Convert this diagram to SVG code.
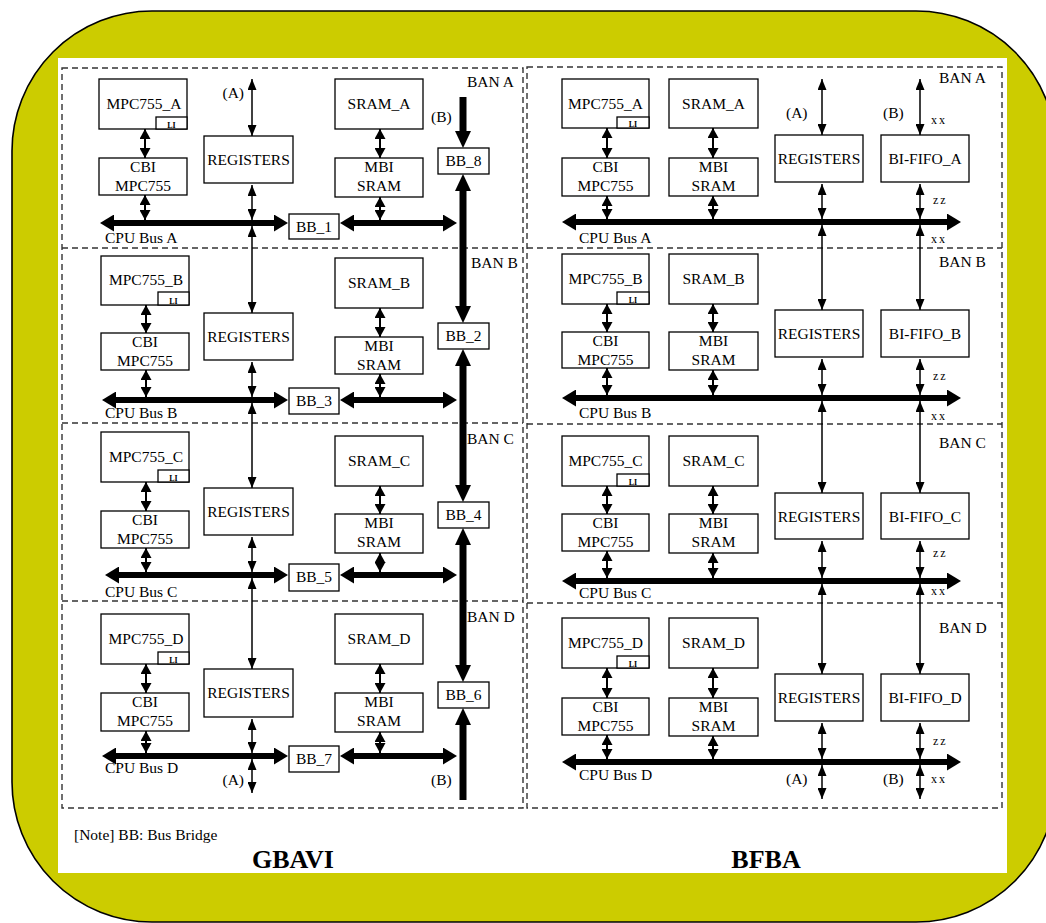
<svg xmlns="http://www.w3.org/2000/svg" width="1046" height="923" viewBox="0 0 1046 923" font-family="'Liberation Serif', 'DejaVu Serif', serif">
<defs>
<style>
.box{fill:#fff;stroke:#000;stroke-width:1.3}
.dash{fill:none;stroke:#333;stroke-width:1.4;stroke-dasharray:6,4}
text{font-family:'Liberation Serif','DejaVu Serif',serif}
.t{font-size:15.5px;text-anchor:middle;fill:#000}
.l{text-anchor:start}
.e{text-anchor:end}
.li{font-size:8px;font-weight:bold}
.x{font-size:12px;letter-spacing:2px}
.h{font-size:26px;font-weight:bold}
.d2{stroke:#000;stroke-width:1.5;marker-start:url(#a);marker-end:url(#a)}
.s2{stroke:#000;stroke-width:2;marker-start:url(#s);marker-end:url(#s)}
.b2{stroke:#000;stroke-width:6;marker-start:url(#b);marker-end:url(#b)}
.v2{stroke:#000;stroke-width:7;marker-start:url(#v);marker-end:url(#v)}
.ve{stroke:#000;stroke-width:7;marker-end:url(#v)}
.vs{stroke:#000;stroke-width:7;marker-start:url(#v)}
</style>
<marker id="a" viewBox="0 0 11 9" markerWidth="11" markerHeight="9" refX="11" refY="4.5" orient="auto-start-reverse" markerUnits="userSpaceOnUse"><path d="M0,0 L11,4.5 L0,9 z" fill="#000"/></marker>
<marker id="s" viewBox="0 0 10 11" markerWidth="10" markerHeight="11" refX="10" refY="5.5" orient="auto-start-reverse" markerUnits="userSpaceOnUse"><path d="M0,0 L10,5.5 L0,11 z" fill="#000"/></marker>
<marker id="b" viewBox="0 0 14 17" markerWidth="14" markerHeight="17" refX="1" refY="8.5" orient="auto-start-reverse" markerUnits="userSpaceOnUse"><path d="M0,0 L14,8.5 L0,17 z" fill="#000"/></marker>
<marker id="v" viewBox="0 0 17 16" markerWidth="17" markerHeight="16" refX="1" refY="8" orient="auto-start-reverse" markerUnits="userSpaceOnUse"><path d="M0,0 L17,8 L0,16 z" fill="#000"/></marker>
</defs>

<g id="background">
<path d="M152,11 H916 A140,140 0 0 1 1056,151 V782 A140,140 0 0 1 916,922 H152 A140,140 0 0 1 12,782 V151 A140,140 0 0 1 152,11 Z" fill="#CCCC00" stroke="#000" stroke-width="1.6"/>
<rect x="58" y="58" width="949" height="815" fill="#fff"/>
</g>

<g id="frames">
<rect class="dash" x="62" y="68" width="461" height="740"/>
<line class="dash" x1="62" y1="248" x2="523" y2="248"/>
<line class="dash" x1="62" y1="423" x2="523" y2="423"/>
<line class="dash" x1="62" y1="601" x2="523" y2="601"/>
<rect class="dash" x="527" y="67" width="475" height="741"/>
<line class="dash" x1="527" y1="248" x2="1002" y2="248"/>
<line class="dash" x1="527" y1="424" x2="1002" y2="424"/>
<line class="dash" x1="527" y1="603" x2="1002" y2="603"/>
</g>

<g id="connectors">
<line class="s2" x1="145" y1="129" x2="145" y2="158"/>
<line class="s2" x1="145" y1="195" x2="145" y2="220"/>
<line class="s2" x1="380" y1="129" x2="380" y2="158"/>
<line class="s2" x1="380" y1="197" x2="380" y2="220"/>
<line class="s2" x1="146" y1="305" x2="146" y2="333"/>
<line class="s2" x1="146" y1="370" x2="146" y2="397"/>
<line class="s2" x1="380" y1="308" x2="380" y2="337"/>
<line class="s2" x1="380" y1="374" x2="380" y2="397"/>
<line class="s2" x1="146" y1="482" x2="146" y2="511"/>
<line class="s2" x1="146" y1="548" x2="146" y2="572"/>
<line class="s2" x1="380" y1="486" x2="380" y2="514"/>
<line class="s2" x1="380" y1="553" x2="380" y2="572"/>
<line class="s2" x1="146" y1="664" x2="146" y2="693"/>
<line class="s2" x1="146" y1="731" x2="146" y2="753"/>
<line class="s2" x1="380" y1="664" x2="380" y2="693"/>
<line class="s2" x1="380" y1="732" x2="380" y2="753"/>
<line class="d2" x1="252" y1="79" x2="252" y2="136"/>
<line class="d2" x1="252" y1="185" x2="252" y2="220"/>
<line class="d2" x1="252" y1="226" x2="252" y2="313"/>
<line class="d2" x1="252" y1="362" x2="252" y2="397"/>
<line class="d2" x1="252" y1="403" x2="252" y2="488"/>
<line class="d2" x1="252" y1="537" x2="252" y2="572"/>
<line class="d2" x1="252" y1="578" x2="252" y2="669"/>
<line class="d2" x1="252" y1="719" x2="252" y2="753"/>
<line class="d2" x1="252" y1="759" x2="252" y2="793"/>
<line class="b2" x1="113" y1="223" x2="275" y2="223"/>
<line class="b2" x1="353" y1="223" x2="444" y2="223"/>
<line class="b2" x1="115" y1="400" x2="275" y2="400"/>
<line class="b2" x1="353" y1="400" x2="444" y2="400"/>
<line class="b2" x1="118" y1="575" x2="275" y2="575"/>
<line class="b2" x1="353" y1="575" x2="444" y2="575"/>
<line class="b2" x1="115" y1="756" x2="275" y2="756"/>
<line class="b2" x1="353" y1="756" x2="444" y2="756"/>
<line class="ve" x1="463" y1="97" x2="463" y2="132"/>
<line class="v2" x1="463" y1="190" x2="463" y2="307"/>
<line class="v2" x1="463" y1="365" x2="463" y2="486"/>
<line class="v2" x1="463" y1="544" x2="463" y2="666"/>
<line class="vs" x1="463" y1="724" x2="463" y2="800"/>
<line class="s2" x1="607" y1="128" x2="607" y2="158"/>
<line class="s2" x1="607" y1="196" x2="607" y2="219"/>
<line class="s2" x1="713" y1="128" x2="713" y2="158"/>
<line class="s2" x1="713" y1="196" x2="713" y2="219"/>
<line class="s2" x1="607" y1="304" x2="607" y2="332"/>
<line class="s2" x1="607" y1="368" x2="607" y2="395"/>
<line class="s2" x1="713" y1="304" x2="713" y2="332"/>
<line class="s2" x1="713" y1="370" x2="713" y2="395"/>
<line class="s2" x1="607" y1="486" x2="607" y2="514"/>
<line class="s2" x1="607" y1="551" x2="607" y2="578"/>
<line class="s2" x1="713" y1="486" x2="713" y2="514"/>
<line class="s2" x1="713" y1="553" x2="713" y2="578"/>
<line class="s2" x1="607" y1="668" x2="607" y2="698"/>
<line class="s2" x1="607" y1="735" x2="607" y2="759"/>
<line class="s2" x1="713" y1="668" x2="713" y2="698"/>
<line class="s2" x1="713" y1="736" x2="713" y2="759"/>
<line class="d2" x1="822" y1="79" x2="822" y2="135"/>
<line class="d2" x1="822" y1="184" x2="822" y2="219"/>
<line class="d2" x1="822" y1="225" x2="822" y2="310"/>
<line class="d2" x1="822" y1="359" x2="822" y2="395"/>
<line class="d2" x1="822" y1="401" x2="822" y2="493"/>
<line class="d2" x1="822" y1="541" x2="822" y2="578"/>
<line class="d2" x1="822" y1="584" x2="822" y2="674"/>
<line class="d2" x1="822" y1="723" x2="822" y2="759"/>
<line class="d2" x1="822" y1="765" x2="822" y2="799"/>
<line class="d2" x1="920" y1="79" x2="920" y2="135"/>
<line class="d2" x1="920" y1="184" x2="920" y2="219"/>
<line class="d2" x1="920" y1="225" x2="920" y2="310"/>
<line class="d2" x1="920" y1="359" x2="920" y2="395"/>
<line class="d2" x1="920" y1="401" x2="920" y2="493"/>
<line class="d2" x1="920" y1="541" x2="920" y2="578"/>
<line class="d2" x1="920" y1="584" x2="920" y2="674"/>
<line class="d2" x1="920" y1="723" x2="920" y2="759"/>
<line class="d2" x1="920" y1="765" x2="920" y2="799"/>
<line class="b2" x1="575" y1="222" x2="948" y2="222"/>
<line class="b2" x1="575" y1="398" x2="948" y2="398"/>
<line class="b2" x1="575" y1="581" x2="948" y2="581"/>
<line class="b2" x1="575" y1="762" x2="948" y2="762"/>
</g>

<g id="g-mpc755-a"><rect class="box" x="99" y="79" width="88" height="50"/><rect class="box" x="156" y="117" width="31" height="12"/><text class="t" x="144" y="109">MPC755_A</text><text class="t li" x="171.5" y="128">LI</text></g>
<g id="g-cbi-a"><rect class="box" x="99" y="158" width="88" height="37"/><text class="t" x="143" y="172">CBI</text><text class="t" x="143" y="191">MPC755</text></g>
<g id="g-reg-a"><rect class="box" x="204" y="136" width="89" height="47"/><text class="t" x="248.5" y="165">REGISTERS</text></g>
<g id="g-sram-a"><rect class="box" x="335" y="79" width="88" height="50"/><text class="t" x="379" y="109">SRAM_A</text></g>
<g id="g-mbi-a"><rect class="box" x="335" y="158" width="88" height="39"/><text class="t" x="379" y="172">MBI</text><text class="t" x="379" y="191">SRAM</text></g>
<g id="g-bb1"><rect class="box" x="289" y="214" width="50" height="25"/><text class="t" x="314" y="232">BB_1</text></g>
<g id="g-bb8"><rect class="box" x="438" y="148" width="51" height="26"/><text class="t" x="463.5" y="166">BB_8</text></g>

<g id="g-mpc755-b"><rect class="box" x="101" y="256" width="88" height="49"/><rect class="box" x="158" y="292" width="31" height="13"/><text class="t" x="146" y="285">MPC755_B</text><text class="t li" x="173.5" y="304">LI</text></g>
<g id="g-cbi-b"><rect class="box" x="101" y="333" width="88" height="37"/><text class="t" x="145" y="347">CBI</text><text class="t" x="145" y="366">MPC755</text></g>
<g id="g-reg-b"><rect class="box" x="204" y="313" width="89" height="47"/><text class="t" x="248.5" y="342">REGISTERS</text></g>
<g id="g-sram-b"><rect class="box" x="335" y="258" width="88" height="50"/><text class="t" x="379" y="288">SRAM_B</text></g>
<g id="g-mbi-b"><rect class="box" x="335" y="337" width="88" height="37"/><text class="t" x="379" y="351">MBI</text><text class="t" x="379" y="370">SRAM</text></g>
<g id="g-bb2"><rect class="box" x="438" y="323" width="51" height="26"/><text class="t" x="463.5" y="341">BB_2</text></g>
<g id="g-bb3"><rect class="box" x="289" y="388" width="50" height="26"/><text class="t" x="314" y="406">BB_3</text></g>

<g id="g-mpc755-c"><rect class="box" x="101" y="432" width="88" height="50"/><rect class="box" x="158" y="470" width="31" height="12"/><text class="t" x="146" y="462">MPC755_C</text><text class="t li" x="173.5" y="481">LI</text></g>
<g id="g-cbi-c"><rect class="box" x="101" y="511" width="88" height="37"/><text class="t" x="145" y="525">CBI</text><text class="t" x="145" y="544">MPC755</text></g>
<g id="g-reg-c"><rect class="box" x="204" y="488" width="89" height="47"/><text class="t" x="248.5" y="517">REGISTERS</text></g>
<g id="g-sram-c"><rect class="box" x="335" y="436" width="88" height="50"/><text class="t" x="379" y="466">SRAM_C</text></g>
<g id="g-mbi-c"><rect class="box" x="335" y="514" width="88" height="39"/><text class="t" x="379" y="528">MBI</text><text class="t" x="379" y="547">SRAM</text></g>
<g id="g-bb4"><rect class="box" x="438" y="502" width="51" height="26"/><text class="t" x="463.5" y="520">BB_4</text></g>
<g id="g-bb5"><rect class="box" x="289" y="564" width="50" height="27"/><text class="t" x="314" y="582">BB_5</text></g>

<g id="g-mpc755-d"><rect class="box" x="101" y="614" width="88" height="50"/><rect class="box" x="158" y="652" width="31" height="12"/><text class="t" x="146" y="644">MPC755_D</text><text class="t li" x="173.5" y="663">LI</text></g>
<g id="g-cbi-d"><rect class="box" x="101" y="693" width="88" height="38"/><text class="t" x="145" y="707">CBI</text><text class="t" x="145" y="726">MPC755</text></g>
<g id="g-reg-d"><rect class="box" x="204" y="669" width="89" height="48"/><text class="t" x="248.5" y="698">REGISTERS</text></g>
<g id="g-sram-d"><rect class="box" x="335" y="614" width="88" height="50"/><text class="t" x="379" y="644">SRAM_D</text></g>
<g id="g-mbi-d"><rect class="box" x="335" y="693" width="88" height="39"/><text class="t" x="379" y="707">MBI</text><text class="t" x="379" y="726">SRAM</text></g>
<g id="g-bb6"><rect class="box" x="438" y="682" width="51" height="26"/><text class="t" x="463.5" y="700">BB_6</text></g>
<g id="g-bb7"><rect class="box" x="289" y="746" width="50" height="26"/><text class="t" x="314" y="764">BB_7</text></g>

<g id="b-mpc755-a"><rect class="box" x="562" y="79" width="87" height="49"/><rect class="box" x="617" y="117" width="32" height="11"/><text class="t" x="605.5" y="109">MPC755_A</text><text class="t li" x="633" y="127">LI</text></g>
<g id="b-sram-a"><rect class="box" x="669" y="79" width="89" height="49"/><text class="t" x="713.5" y="109">SRAM_A</text></g>
<g id="b-cbi-a"><rect class="box" x="562" y="158" width="87" height="38"/><text class="t" x="605.5" y="172">CBI</text><text class="t" x="605.5" y="191">MPC755</text></g>
<g id="b-mbi-a"><rect class="box" x="669" y="158" width="89" height="38"/><text class="t" x="713.5" y="172">MBI</text><text class="t" x="713.5" y="191">SRAM</text></g>
<g id="b-reg-a"><rect class="box" x="775" y="135" width="88" height="47"/><text class="t" x="819" y="164">REGISTERS</text></g>
<g id="b-fifo-a"><rect class="box" x="881" y="135" width="88" height="47"/><text class="t" x="925" y="164">BI-FIFO_A</text></g>

<g id="b-mpc755-b"><rect class="box" x="562" y="254" width="87" height="50"/><rect class="box" x="617" y="292" width="32" height="12"/><text class="t" x="605.5" y="284">MPC755_B</text><text class="t li" x="633" y="303">LI</text></g>
<g id="b-sram-b"><rect class="box" x="669" y="254" width="89" height="50"/><text class="t" x="713.5" y="284">SRAM_B</text></g>
<g id="b-cbi-b"><rect class="box" x="562" y="332" width="87" height="36"/><text class="t" x="605.5" y="346">CBI</text><text class="t" x="605.5" y="365">MPC755</text></g>
<g id="b-mbi-b"><rect class="box" x="669" y="332" width="89" height="38"/><text class="t" x="713.5" y="346">MBI</text><text class="t" x="713.5" y="365">SRAM</text></g>
<g id="b-reg-b"><rect class="box" x="775" y="310" width="88" height="47"/><text class="t" x="819" y="339">REGISTERS</text></g>
<g id="b-fifo-b"><rect class="box" x="881" y="310" width="88" height="47"/><text class="t" x="925" y="339">BI-FIFO_B</text></g>

<g id="b-mpc755-c"><rect class="box" x="562" y="436" width="87" height="50"/><rect class="box" x="617" y="474" width="32" height="12"/><text class="t" x="605.5" y="466">MPC755_C</text><text class="t li" x="633" y="485">LI</text></g>
<g id="b-sram-c"><rect class="box" x="669" y="436" width="89" height="50"/><text class="t" x="713.5" y="466">SRAM_C</text></g>
<g id="b-cbi-c"><rect class="box" x="562" y="514" width="87" height="37"/><text class="t" x="605.5" y="528">CBI</text><text class="t" x="605.5" y="547">MPC755</text></g>
<g id="b-mbi-c"><rect class="box" x="669" y="514" width="89" height="39"/><text class="t" x="713.5" y="528">MBI</text><text class="t" x="713.5" y="547">SRAM</text></g>
<g id="b-reg-c"><rect class="box" x="775" y="493" width="88" height="46"/><text class="t" x="819" y="522">REGISTERS</text></g>
<g id="b-fifo-c"><rect class="box" x="881" y="493" width="88" height="46"/><text class="t" x="925" y="522">BI-FIFO_C</text></g>

<g id="b-mpc755-d"><rect class="box" x="562" y="618" width="87" height="50"/><rect class="box" x="617" y="656" width="32" height="12"/><text class="t" x="605.5" y="648">MPC755_D</text><text class="t li" x="633" y="667">LI</text></g>
<g id="b-sram-d"><rect class="box" x="669" y="618" width="89" height="50"/><text class="t" x="713.5" y="648">SRAM_D</text></g>
<g id="b-cbi-d"><rect class="box" x="562" y="698" width="87" height="37"/><text class="t" x="605.5" y="712">CBI</text><text class="t" x="605.5" y="731">MPC755</text></g>
<g id="b-mbi-d"><rect class="box" x="669" y="698" width="89" height="38"/><text class="t" x="713.5" y="712">MBI</text><text class="t" x="713.5" y="731">SRAM</text></g>
<g id="b-reg-d"><rect class="box" x="775" y="674" width="88" height="47"/><text class="t" x="819" y="703">REGISTERS</text></g>
<g id="b-fifo-d"><rect class="box" x="881" y="674" width="88" height="47"/><text class="t" x="925" y="703">BI-FIFO_D</text></g>

<g id="labels">
<text class="t l" x="467" y="87">BAN A</text>
<text class="t l" x="471" y="268">BAN B</text>
<text class="t l" x="467" y="444">BAN C</text>
<text class="t l" x="467" y="622">BAN D</text>
<text class="t l" x="105" y="243">CPU Bus A</text>
<text class="t l" x="105" y="418">CPU Bus B</text>
<text class="t l" x="105" y="597">CPU Bus C</text>
<text class="t l" x="105" y="773">CPU Bus D</text>
<text class="t e" x="244" y="98">(A)</text>
<text class="t l" x="431" y="122">(B)</text>
<text class="t e" x="244" y="785">(A)</text>
<text class="t l" x="431" y="785">(B)</text>
<text class="t l" x="939" y="83">BAN A</text>
<text class="t l" x="939" y="267">BAN B</text>
<text class="t l" x="939" y="448">BAN C</text>
<text class="t l" x="939" y="633">BAN D</text>
<text class="t l" x="579" y="243">CPU Bus A</text>
<text class="t l" x="579" y="418">CPU Bus B</text>
<text class="t l" x="579" y="598">CPU Bus C</text>
<text class="t l" x="579" y="780">CPU Bus D</text>
<text class="t l" x="786" y="118">(A)</text>
<text class="t l" x="883" y="118">(B)</text>
<text class="t l" x="786" y="784">(A)</text>
<text class="t l" x="883" y="784">(B)</text>
<text class="t l x" x="931" y="124">xx</text>
<text class="t l x" x="933" y="204">zz</text>
<text class="t l x" x="931" y="243">xx</text>
<text class="t l x" x="933" y="380">zz</text>
<text class="t l x" x="931" y="420">xx</text>
<text class="t l x" x="933" y="557">zz</text>
<text class="t l x" x="931" y="595">xx</text>
<text class="t l x" x="933" y="745">zz</text>
<text class="t l x" x="931" y="783">xx</text>
<text class="t l" x="74" y="840">[Note] BB: Bus Bridge</text>
<text class="t h" x="293" y="868">GBAVI</text>
<text class="t h" x="766" y="868">BFBA</text>
</g>
</svg>
